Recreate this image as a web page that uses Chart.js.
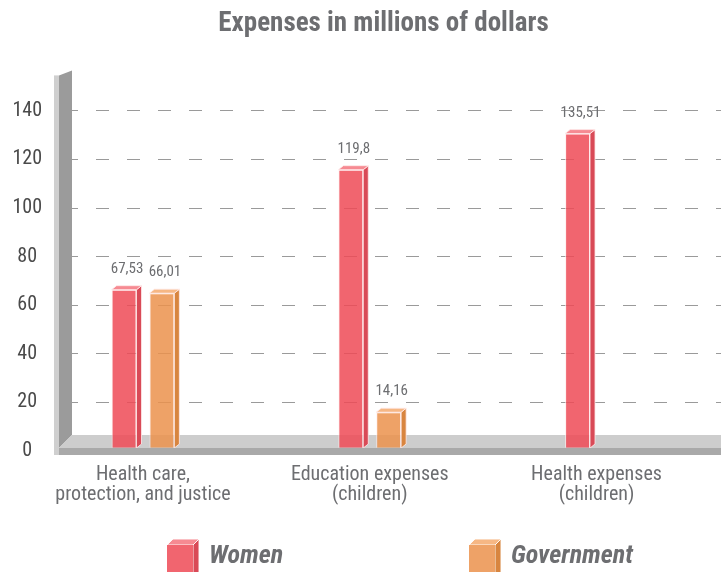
<!DOCTYPE html>
<html>
<head>
<meta charset="utf-8">
<script src="https://cdn.jsdelivr.net/npm/chart.js@4.4.0/dist/chart.umd.min.js"></script>
<style>
  html, body { margin: 0; padding: 0; background: #fff; }
</style>
</head>
<body>
<canvas id="myChart" width="721" height="572"></canvas>
<script>
// datos
const categories = [
  ['Health care,', 'protection, and justice'],
  ['Education expenses', '(children)'],
  ['Health expenses', '(children)']
];
const seriesNames = ['Women', 'Government'];
const women = [67.53, 119.8, 135.51];
const government = [66.01, 14.16, null];
const yTicks = [0, 20, 40, 60, 80, 100, 120, 140];

const FONT = "'Roboto Condensed', 'Roboto', sans-serif";
const GREY = '#6d6e71';

// colores de cada cara de las barras 3d
const faces = [
  { front: 'rgba(238,74,86,0.85)', side: '#d94a57', top: '#f68a92' },
  { front: 'rgba(235,146,76,0.85)', side: '#d8853f', top: '#f6b784' }
];
const depth = { dx: 5, dy: 4 };
const legendSlots = [167, 469];

function fmt(v) {
  return String(v).replace('.', ',');
}

function poly(c, pts, fill, stroke) {
  c.beginPath();
  c.moveTo(pts[0][0], pts[0][1]);
  for (let i = 1; i < pts.length; i++) c.lineTo(pts[i][0], pts[i][1]);
  c.closePath();
  c.fillStyle = fill;
  c.fill();
  if (stroke) {
    c.strokeStyle = stroke;
    c.lineWidth = 1;
    c.stroke();
  }
}

function drawCube(c, left, top, w, h, f) {
  const d = 6;
  poly(c, [[left, top + d], [left + d, top], [left + w + d, top], [left + w, top + d]], f.top, 'rgba(255,255,255,0.9)');
  poly(c, [[left + w, top + d], [left + w + d, top], [left + w + d, top + h - d], [left + w, top + h]], f.side, 'rgba(255,255,255,0.9)');
  c.fillStyle = f.front;
  c.fillRect(left, top + d, w, h - d);
}

// suelo y pared del grafico 3d
const scenePlugin = {
  id: 'scene3d',
  beforeDatasetsDraw(chart) {
    const c = chart.ctx;
    const a = chart.chartArea;
    const floor = a.bottom - 3;
    c.save();
    poly(c, [[a.left - 13, a.top + 1], [a.left, a.top - 4], [a.left, floor - 13], [a.left - 13, floor]], '#9b9b9b');
    poly(c, [[a.left, floor - 13], [a.right, floor - 13], [a.right, floor], [a.left - 13, floor]], '#cdcdcd');
    c.restore();
  },
  afterDatasetsDraw(chart) {
    const c = chart.ctx;
    const a = chart.chartArea;
    const floor = a.bottom - 3;
    c.save();
    chart.data.datasets.forEach((ds, di) => {
      const meta = chart.getDatasetMeta(di);
      meta.data.forEach((el, i) => {
        const v = ds.data[i].y;
        if (v === null) return;
        const l = el.x - el.width / 2;
        const r = el.x + el.width / 2;
        const y = el.y;
        poly(c, [[r, y], [r + depth.dx, y - depth.dy], [r + depth.dx, floor - depth.dy], [r, floor]], faces[di].side, 'rgba(255,235,235,0.8)');
        poly(c, [[l, y], [l + depth.dx, y - depth.dy], [r + depth.dx, y - depth.dy], [r, y]], faces[di].top, 'rgba(255,235,235,0.8)');
        c.font = '15px ' + FONT;
        c.fillStyle = GREY;
        c.textAlign = 'center';
        c.textBaseline = 'bottom';
        c.fillText(fmt(v), el.x + 3, y - 13);
      });
    });
    // borde frontal del suelo y cara clara de la pared
    c.fillStyle = '#a9a9a9';
    c.fillRect(a.left - 18, floor, a.right - a.left + 18, 7);
    c.fillStyle = '#cfcfcf';
    c.fillRect(a.left - 18, a.top + 1, 5, floor + 7 - a.top - 1);
    c.restore();
  },
  afterDraw(chart) {
    const c = chart.ctx;
    c.save();
    chart.data.datasets.forEach((ds, i) => {
      const x = legendSlots[i];
      drawCube(c, x, chart.height - 33, 26, 42, faces[i]);
      c.font = 'italic bold 26px ' + FONT;
      c.fillStyle = GREY;
      c.textAlign = 'left';
      c.textBaseline = 'alphabetic';
      c.fillText(ds.label, x + 42, chart.height - 9);
    });
    c.restore();
  }
};

const barStyle = {
  yAxisID: 'yb',
  base: -1.3,
  borderColor: 'rgba(255,235,235,0.8)',
  borderWidth: 1,
  categoryPercentage: 0.334,
  barPercentage: 0.658
};

const chart = new Chart(document.getElementById('myChart').getContext('2d'), {
  type: 'bar',
  data: {
    datasets: [
      Object.assign({
        label: seriesNames[0],
        data: women.map((v, i) => ({ x: i, y: v })),
        backgroundColor: faces[0].front
      }, barStyle),
      Object.assign({
        label: seriesNames[1],
        data: government.map((v, i) => ({ x: i, y: v })),
        backgroundColor: faces[1].front
      }, barStyle)
    ]
  },
  options: {
    responsive: false,
    animation: false,
    // el grafico original sigue por la derecha, fuera del recorte
    layout: { padding: { left: 0, right: -46, top: 0, bottom: 53 } },
    plugins: {
      legend: { display: false },
      tooltip: { enabled: false },
      title: {
        display: true,
        text: 'Expenses in millions of dollars',
        color: GREY,
        font: { family: FONT, size: 27, weight: 'bold' },
        padding: { top: 8, bottom: 34 }
      }
    },
    scales: {
      x: {
        type: 'linear',
        offset: false,
        min: -0.313,
        max: 2.549,
        grid: { display: false, drawTicks: false, offset: false },
        border: { display: false },
        afterBuildTicks: (s) => { s.ticks = categories.map((c, i) => ({ value: i })); },
        ticks: {
          callback: (v) => categories[v],
          color: GREY,
          font: { family: FONT, size: 20, lineHeight: 1 },
          padding: 14,
          maxRotation: 0,
          autoSkip: false
        }
      },
      y: {
        position: 'left',
        min: 0,
        max: 155,
        afterBuildTicks: (s) => { s.ticks = yTicks.map((v) => ({ value: v })); },
        afterFit: (s) => { s.width = 72; },
        grid: { color: '#9a9a9a', lineWidth: 1, drawTicks: false },
        border: { display: false, dash: [13, 18], dashOffset: 7 },
        ticks: { color: '#4a4a4a', font: { family: FONT, size: 20 }, padding: 30, crossAlign: 'center' }
      },
      // escala de las barras, un poco mas baja que la rejilla como en el original
      yb: { position: 'left', display: false, min: -2.74, max: 161.3 }
    }
  },
  plugins: [scenePlugin]
});
</script>
</body>
</html>
